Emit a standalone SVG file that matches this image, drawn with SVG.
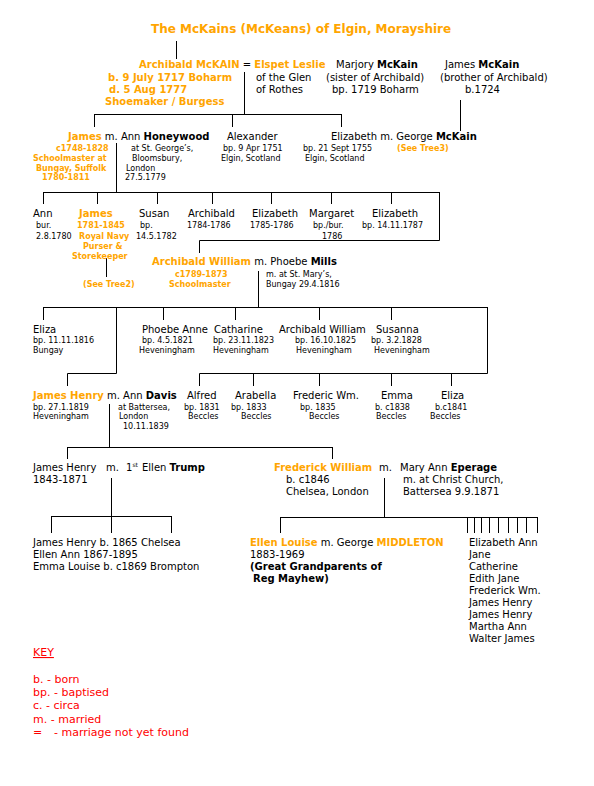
<svg xmlns="http://www.w3.org/2000/svg" width="594" height="786" viewBox="0 0 594 786">
<style>
text{font-family:"DejaVu Sans","Liberation Sans",sans-serif;font-size:10px;fill:#000}
.o{fill:#FFA500;font-weight:bold}
.b{font-weight:bold}
.s{font-size:8px}
.t{font-size:12px}
.k{fill:#FF0000;font-size:11px}
#connectors path{fill:none;stroke:#000;stroke-width:1}
</style>
<rect width="594" height="786" fill="#fff"/>
<text class="o t" x="151" y="33">The McKains (McKeans) of Elgin, Morayshire</text>

<g id="connectors">
<path d="M176.5 41V59"/>
<path d="M244.5 72V114.5M94 114.5H342M94.5 114V127M232.5 114V127M341.5 114V127"/>
<path d="M460.5 100V131"/>
<path d="M116.5 143V192.5M43 192.5H440M43.5 192V204M97.5 192V204M157.5 192V204M212.5 192V204M271.5 192V204M331.5 192V204M391.5 192V204M439.5 192V240.5H199.5V253"/>
<path d="M106.5 258V277"/>
<path d="M258.5 271V307.5M43 307.5H488M43.5 307V320M163.5 307V320M235.5 307V320M319.5 307V320M391.5 307V320"/>
<path d="M116.5 307V373.5H67.5V386"/>
<path d="M487.5 307V373.5H199.5V386M253.5 373V386M319.5 373V386M391.5 373V386M451.5 373V386"/>
<path d="M109.5 404V447.5M67 447.5H333M67.5 447V459M332.5 447V459"/>
<path d="M111.5 478V533M51 516.5H172M51.5 516V533M171.5 516V533"/>
<path d="M384.5 478V517.5M280 517.5H538M280.5 517V533M467.5 517V533M474.5 517V533M481.5 517V533M489.5 517V533M498.5 517V533M508.5 517V533M517.5 517V533M526.5 517V533M537.5 517V533"/>
</g>

<g id="archibald-senior">
<text x="139" y="68"><tspan class="o">Archibald McKAIN</tspan> = <tspan class="o">Elspet Leslie</tspan></text>
<text class="o" x="108" y="81">b. 9 July 1717 Boharm</text>
<text class="o" x="109" y="93">d. 5 Aug 1777</text>
<text class="o" x="105" y="105">Shoemaker / Burgess</text>
<text x="256" y="81">of the Glen</text>
<text x="256" y="93">of Rothes</text>
</g>
<g id="marjory">
<text x="336" y="68">Marjory <tspan class="b">McKain</tspan></text>
<text x="326" y="81">(sister of Archibald)</text>
<text x="332" y="93">bp. 1719 Boharm</text>
</g>
<g id="james-brother">
<text x="445" y="68">James <tspan class="b">McKain</tspan></text>
<text x="440" y="81">(brother of Archibald)</text>
<text x="465" y="93">b.1724</text>
</g>

<g id="james-1748">
<text x="68" y="140"><tspan class="o">James</tspan> m. Ann <tspan class="b">Honeywood</tspan></text>
<text class="o s" x="56" y="151">c1748-1828</text>
<text class="o s" x="33" y="161">Schoolmaster at</text>
<text class="o s" x="36" y="171">Bungay, Suffolk</text>
<text class="o s" x="42" y="180">1780-1811</text>
<text class="s" x="131" y="151">at St. George’s,</text>
<text class="s" x="132" y="161">Bloomsbury,</text>
<text class="s" x="126" y="171">London</text>
<text class="s" x="125" y="180">27.5.1779</text>
</g>
<g id="alexander">
<text x="227" y="140">Alexander</text>
<text class="s" x="223" y="151">bp. 9 Apr 1751</text>
<text class="s" x="221" y="161">Elgin, Scotland</text>
</g>
<g id="elizabeth-1755">
<text x="331" y="140">Elizabeth m. George <tspan class="b">McKain</tspan></text>
<text class="s" x="303" y="151">bp. 21 Sept 1755</text>
<text class="s" x="305" y="161">Elgin, Scotland</text>
<text class="o s" x="397" y="151">(See Tree3)</text>
</g>

<g id="ann-1780">
<text x="33" y="217">Ann</text>
<text class="s" x="36" y="228">bur.</text>
<text class="s" x="36" y="239">2.8.1780</text>
</g>
<g id="james-1781">
<text class="o" x="79" y="217">James</text>
<text class="o s" x="77" y="228">1781-1845</text>
<text class="o s" x="79" y="239">Royal Navy</text>
<text class="o s" x="83" y="249">Purser &amp;</text>
<text class="o s" x="72" y="259">Storekeeper</text>
<text class="o s" x="83" y="287">(See Tree2)</text>
</g>
<g id="susan">
<text x="139" y="217">Susan</text>
<text class="s" x="140" y="228">bp.</text>
<text class="s" x="136" y="239">14.5.1782</text>
</g>
<g id="archibald-1784">
<text x="188" y="217">Archibald</text>
<text class="s" x="187" y="228">1784-1786</text>
</g>
<g id="elizabeth-1785">
<text x="252" y="217">Elizabeth</text>
<text class="s" x="250" y="228">1785-1786</text>
</g>
<g id="margaret">
<text x="309" y="217">Margaret</text>
<text class="s" x="313" y="228">bp./bur.</text>
<text class="s" x="322" y="239">1786</text>
</g>
<g id="elizabeth-1787">
<text x="372" y="217">Elizabeth</text>
<text class="s" x="362" y="228">bp. 14.11.1787</text>
</g>

<g id="archibald-william">
<text x="152" y="265"><tspan class="o">Archibald William</tspan> m. Phoebe <tspan class="b">Mills</tspan></text>
<text class="o s" x="175" y="277">c1789-1873</text>
<text class="o s" x="169" y="287">Schoolmaster</text>
<text class="s" x="266" y="277">m. at St. Mary’s,</text>
<text class="s" x="266" y="287">Bungay 29.4.1816</text>
</g>

<g id="eliza-1816">
<text x="33" y="333">Eliza</text>
<text class="s" x="33" y="343">bp. 11.11.1816</text>
<text class="s" x="33" y="353">Bungay</text>
</g>
<g id="phoebe-anne">
<text x="142" y="333">Phoebe Anne</text>
<text class="s" x="142" y="343">bp. 4.5.1821</text>
<text class="s" x="139" y="353">Heveningham</text>
</g>
<g id="catharine">
<text x="214" y="333">Catharine</text>
<text class="s" x="213" y="343">bp. 23.11.1823</text>
<text class="s" x="213" y="353">Heveningham</text>
</g>
<g id="archibald-william-1825">
<text x="279" y="333">Archibald William</text>
<text class="s" x="295" y="343">bp. 16.10.1825</text>
<text class="s" x="296" y="353">Heveningham</text>
</g>
<g id="susanna">
<text x="376" y="333">Susanna</text>
<text class="s" x="371" y="343">bp. 3.2.1828</text>
<text class="s" x="374" y="353">Heveningham</text>
</g>

<g id="james-henry-1819">
<text x="33" y="399"><tspan class="o">James Henry</tspan> m. Ann <tspan class="b">Davis</tspan></text>
<text class="s" x="33" y="410">bp. 27.1.1819</text>
<text class="s" x="33" y="419">Heveningham</text>
<text class="s" x="118" y="410">at Battersea,</text>
<text class="s" x="119" y="419">London</text>
<text class="s" x="123" y="429">10.11.1839</text>
</g>
<g id="alfred">
<text x="187" y="399">Alfred</text>
<text class="s" x="184" y="410">bp. 1831</text>
<text class="s" x="188" y="419">Beccles</text>
</g>
<g id="arabella">
<text x="235" y="399">Arabella</text>
<text class="s" x="231" y="410">bp. 1833</text>
<text class="s" x="241" y="419">Beccles</text>
</g>
<g id="frederic-wm">
<text x="293" y="399">Frederic Wm.</text>
<text class="s" x="300" y="410">bp. 1835</text>
<text class="s" x="309" y="419">Beccles</text>
</g>
<g id="emma-1838">
<text x="381" y="399">Emma</text>
<text class="s" x="375" y="410">b. c1838</text>
<text class="s" x="376" y="419">Beccles</text>
</g>
<g id="eliza-1841">
<text x="441" y="399">Eliza</text>
<text class="s" x="435" y="410">b.c1841</text>
<text class="s" x="430" y="419">Beccles</text>
</g>

<g id="james-henry-1843">
<text x="33" y="471">James Henry<tspan x="106">m.</tspan><tspan x="126">1</tspan><tspan font-size="6" dy="-4">st</tspan><tspan x="142" dy="4">Ellen </tspan><tspan class="b">Trump</tspan></text>
<text x="33" y="483">1843-1871</text>
</g>
<g id="frederick-william">
<text x="274" y="471"><tspan class="o">Frederick William</tspan><tspan x="379">m.</tspan><tspan x="400">Mary Ann </tspan><tspan class="b">Eperage</tspan></text>
<text x="286" y="483">b. c1846</text>
<text x="286" y="495">Chelsea, London</text>
<text x="403" y="483">m. at Christ Church,</text>
<text x="403" y="495">Battersea  9.9.1871</text>
</g>

<g id="children-1865">
<text x="33" y="546">James Henry b. 1865 Chelsea</text>
<text x="33" y="558">Ellen Ann 1867-1895</text>
<text x="33" y="570">Emma Louise b. c1869 Brompton</text>
</g>
<g id="ellen-louise">
<text x="250" y="546"><tspan class="o">Ellen Louise</tspan> m. George <tspan class="o">MIDDLETON</tspan></text>
<text x="250" y="558">1883-1969</text>
<text class="b" x="250" y="570">(Great Grandparents of</text>
<text class="b" x="253" y="582">Reg Mayhew)</text>
</g>
<g id="siblings">
<text x="469" y="546">Elizabeth Ann</text>
<text x="469" y="558">Jane</text>
<text x="469" y="570">Catherine</text>
<text x="469" y="582">Edith Jane</text>
<text x="469" y="594">Frederick Wm.</text>
<text x="469" y="606">James Henry</text>
<text x="469" y="618">James Henry</text>
<text x="469" y="630">Martha Ann</text>
<text x="469" y="642">Walter James</text>
</g>

<g id="key">
<text class="k" x="33" y="656" text-decoration="underline">KEY</text>
<text class="k" x="33" y="683">b. - born</text>
<text class="k" x="33" y="696">bp. - baptised</text>
<text class="k" x="33" y="709">c. - circa</text>
<text class="k" x="33" y="723">m. - married</text>
<text class="k" x="33" y="736">=<tspan x="54">- marriage not yet found</tspan></text>
</g>
</svg>
